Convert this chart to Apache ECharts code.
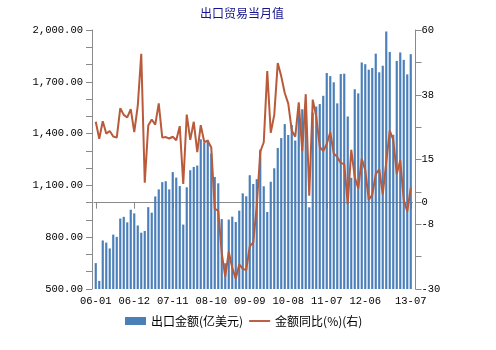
<!DOCTYPE html>
<html>
<head>
<meta charset="utf-8">
<script src="https://cdn.jsdelivr.net/npm/echarts@6/dist/echarts.min.js"></script>
<style>html,body{margin:0;padding:0;background:#fff;}#c{width:496px;height:350px;}</style>
</head>
<body>
<div id="c"></div>
<script>
const months = [
'06-01','06-02','06-03','06-04','06-05','06-06','06-07','06-08','06-09','06-10','06-11','06-12',
'07-01','07-02','07-03','07-04','07-05','07-06','07-07','07-08','07-09','07-10','07-11','07-12',
'08-01','08-02','08-03','08-04','08-05','08-06','08-07','08-08','08-09','08-10','08-11','08-12',
'09-01','09-02','09-03','09-04','09-05','09-06','09-07','09-08','09-09','09-10','09-11','09-12',
'10-01','10-02','10-03','10-04','10-05','10-06','10-07','10-08','10-09','10-10','10-11','10-12',
'11-01','11-02','11-03','11-04','11-05','11-06','11-07','11-08','11-09','11-10','11-11','11-12',
'12-01','12-02','12-03','12-04','12-05','12-06','12-07','12-08','12-09','12-10','12-11','12-12',
'13-01','13-02','13-03','13-04','13-05','13-06','13-07'];

const exportValues = [
650,547,781,769,735,815,802,908,918,886,959,938,
868,826,836,974,942,1036,1077,1119,1124,1077,1177,1145,
1096,873,1089,1188,1207,1215,1367,1349,1364,1284,1149,1112,
905,649,902,919,888,954,1054,1037,1159,1108,1136,1307,
1095,946,1121,1199,1317,1374,1455,1392,1450,1360,1533,1541,
1507,973,1522,1557,1571,1619,1751,1733,1697,1575,1745,1747,
1499,1144,1657,1633,1812,1802,1770,1780,1863,1755,1793,1992,
1873,1393,1821,1870,1827,1743,1860];

const yoyValues = [
28.1,22.2,28.3,24.0,24.9,23.0,22.6,32.8,30.5,29.6,32.5,24.5,
33.6,51.7,6.9,26.8,28.9,27.1,34.5,22.6,22.8,22.3,22.9,21.7,
26.6,6.5,30.6,21.8,28.1,17.6,26.9,21.1,21.5,19.2,-2.2,-2.8,
-17.5,-25.7,-17.1,-22.6,-26.4,-21.4,-23.0,-23.4,-15.2,-13.8,-1.2,17.7,
21.0,45.7,24.3,30.5,48.5,43.9,38.1,34.4,25.1,22.9,34.9,17.9,
37.7,2.4,35.8,29.9,19.4,17.9,20.4,24.5,17.1,15.9,13.8,13.4,
-0.5,18.4,8.9,4.9,15.3,11.3,1.0,2.7,9.9,11.6,2.9,14.1,
25.0,21.8,10.0,14.7,1.0,-3.1,5.1];

const leftLabelValues = [500, 800, 1100, 1400, 1700, 2000];
const rightTickValues = [-30, -18.75, -7.5, 0, 3.75, 15, 26.25, 37.5, 48.75, 60];
const rightLabelValues = [-30, -7.5, 0, 15, 37.5, 60];
const xLabelIndices = [0, 11, 22, 33, 44, 55, 66, 77, 90];

const seriesNames = ['出口金额(亿美元)', '金额同比(%)(右)'];

const axisGrey = '#8a8a8a';
const labelFont = {color: '#000', fontFamily: 'Liberation Mono', fontSize: 10.5};

const chart = echarts.init(document.getElementById('c'), null, {renderer: 'canvas'});
chart.setOption({
  animation: false,
  backgroundColor: '#fff',
  title: {
    text: '出口贸易当月值',
    left: 200, top: 7, padding: 0,
    textStyle: {color: '#14148c', fontSize: 12, fontWeight: 'normal', fontFamily: 'Noto Sans CJK SC'}
  },
  legend: {
    top: 315, left: 125, padding: 0,
    itemWidth: 21, itemHeight: 8, itemGap: 6,
    textStyle: {color: '#000', fontSize: 12, fontFamily: 'Noto Sans CJK SC'},
    data: [
      {name: seriesNames[0], icon: 'rect'},
      {name: seriesNames[1], icon: 'path://M0,0 L22,0 L22,2 L0,2 Z'}
    ]
  },
  grid: {left: 94, right: 83.5, top: 30, bottom: 61, containLabel: false},
  xAxis: {
    type: 'category',
    data: months,
    boundaryGap: true,
    axisLine: {show: true, lineStyle: {color: axisGrey}},
    axisTick: {show: true, alignWithLabel: true, length: 6, lineStyle: {color: axisGrey},
      interval: (i) => xLabelIndices.indexOf(i) >= 0},
    axisLabel: Object.assign({margin: 7, interval: (i) => xLabelIndices.indexOf(i) >= 0}, labelFont),
    splitLine: {show: false}
  },
  yAxis: [
    {
      type: 'value', position: 'left', offset: 2,
      min: 500, max: 2000, interval: 100,
      axisLine: {show: true, lineStyle: {color: axisGrey}},
      axisTick: {show: true, length: 6, lineStyle: {color: axisGrey}},
      axisLabel: Object.assign({
        margin: 9,
        customValues: leftLabelValues,
        formatter: (v) => v.toLocaleString('en-US', {minimumFractionDigits: 2, maximumFractionDigits: 2})
      }, labelFont),
      splitLine: {show: false}
    },
    {
      type: 'value', position: 'right', offset: 3,
      min: -30, max: 60, interval: 11.25,
      axisLine: {show: true, lineStyle: {color: axisGrey}},
      axisTick: {show: true, length: 6, lineStyle: {color: axisGrey}, customValues: rightTickValues},
      axisLabel: Object.assign({
        margin: 6,
        customValues: rightLabelValues,
        formatter: (v) => String(v < 0 ? -Math.round(-v) : Math.round(v))
      }, labelFont),
      splitLine: {show: false}
    }
  ],
  series: [
    {
      name: seriesNames[0], type: 'bar', yAxisIndex: 0,
      data: exportValues, barWidth: '62%',
      itemStyle: {color: '#4a7fba'}
    },
    {
      name: seriesNames[1], type: 'line', yAxisIndex: 1,
      data: yoyValues, symbol: 'none', smooth: false,
      lineStyle: {color: '#b95a3b', width: 2},
      itemStyle: {color: '#b95a3b'}
    }
  ]
});
</script>
</body>
</html>
